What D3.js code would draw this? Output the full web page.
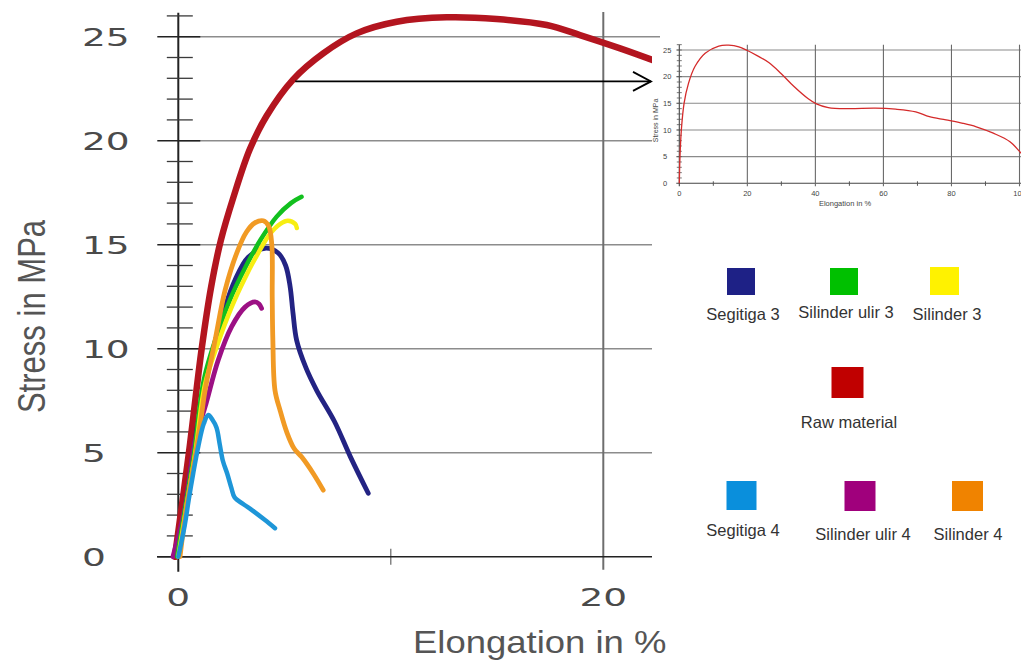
<!DOCTYPE html>
<html>
<head>
<meta charset="utf-8">
<script src="https://cdn.jsdelivr.net/npm/d3@7"></script>
<style>
  body { margin: 0; background: #fff; }
  text { font-family: "Liberation Sans", Arial, sans-serif; }
</style>
</head>
<body>
<svg id="chart" width="1021" height="661"></svg>
<script>
// ---- data ----
var seriesNames = ["Segitiga 3", "Silinder ulir 3", "Silinder 3", "Raw material", "Segitiga 4", "Silinder ulir 4", "Silinder 4"]

// [elongation %, stress MPa]
var rawMaterial = [[-0.16,0],[0.5,5],[1.1,10],[1.55,13],[2.0,15.2],[2.6,17.3],[3.37,19.6],[4.16,21.2],[5.41,22.95],[6.82,24.2],[8.39,25.16],[10.28,25.72],[12.63,25.93],[14.98,25.85],[17.34,25.56],[18.9,25.08],[20.79,24.44],[22.4,23.85]]
var segitiga3 = [[0,0],[0.35,2.5],[0.7,5],[1.2,8],[1.7,10.2],[2.2,12.0],[2.67,13.3],[3.29,14.4],[4.08,14.83],[4.7,14.6],[5.05,14.0],[5.26,13.0],[5.4,11.7],[5.57,10.4],[6.0,9.1],[6.51,8.0],[7.35,6.5],[8.1,4.8],[8.94,3.05]]
var silinderUlir3 = [[-0.05,0],[0.35,2.5],[0.75,5],[1.2,8.5],[1.8,10.6],[2.45,12.4],[3.1,13.8],[3.85,15.2],[4.63,16.35],[5.3,17.0],[5.8,17.3]]
var silinder3 = [[0,0],[0.4,2.5],[0.8,5],[1.26,8.3],[1.88,10.3],[2.51,12.0],[3.14,13.4],[3.76,14.6],[4.3,15.5],[4.8,16.0],[5.16,16.15],[5.5,16.0],[5.58,15.8]]
var segitiga4 = [[0,0],[0.3,1.5],[0.5,2.8],[0.7,4.0],[0.94,5.3],[1.2,6.4],[1.41,6.81],[1.6,6.6],[1.8,6.2],[1.95,5.4],[2.1,4.6],[2.3,4.0],[2.5,3.3],[2.65,2.85],[3.1,2.5],[3.45,2.25],[4.08,1.76],[4.55,1.37]]
var silinderUlir4 = [[-0.25,0],[0.05,1.2],[0.32,2.4],[0.55,4],[0.79,5.6],[1.26,7.2],[1.88,9.46],[2.51,11.06],[3.14,12.0],[3.61,12.25],[3.8,12.15],[3.92,11.94]]
var silinder4 = [[0.08,0],[0.4,2.5],[0.79,4.8],[1.05,6.5],[1.26,8.0],[1.73,10.4],[2.2,12.8],[2.75,14.6],[3.2,15.6],[3.6,16.05],[4.0,16.15],[4.25,15.9],[4.4,15.0],[4.42,12.5],[4.45,10.4],[4.55,8.0],[4.8,7.0],[5.1,6.0],[5.45,5.2],[5.8,4.8],[6.35,4.0],[6.82,3.2]]

// small inset: raw material over the full elongation range
var insetRaw = [[0,0],[0.2,5],[0.6,10],[1.4,15],[2.7,18.75],[4.6,21.9],[7.6,24.4],[11.6,25.75],[14.5,25.9],[17.5,25.6],[20,24.9],[23,23.9],[26.4,22.6],[29.9,20.6],[33.8,18.1],[37.8,15.9],[40.3,14.9],[43.8,14.2],[49.7,14.0],[57.6,14.1],[63.6,13.9],[69.5,13.4],[73.5,12.5],[78.4,11.9],[83.4,11.25],[87.3,10.6],[92.3,9.4],[97.2,7.8],[100.5,5.6]]

var yTickLabels = [0, 5, 10, 15, 20, 25]
var xTickLabels = [0, 20]
var insetYTicks = [0, 5, 10, 15, 20, 25]
var insetXTicks = [0, 20, 40, 60, 80, 100]

// ---- styles ----
var swatchColors = {"Segitiga 3": "#1e2186", "Silinder ulir 3": "#00c000", "Silinder 3": "#fff200", "Raw material": "#c00000",
                    "Segitiga 4": "#0a8fdc", "Silinder ulir 4": "#a0007c", "Silinder 4": "#f08300"}
var lineColors = {"Segitiga 3": "#232383", "Silinder ulir 3": "#12c01e", "Silinder 3": "#f7ee12", "Raw material": "#b3151f",
                  "Segitiga 4": "#1e96d8", "Silinder ulir 4": "#9c1084", "Silinder 4": "#f19a24"}

var svg = d3.select("#chart")

var x = d3.scaleLinear().domain([0, 20]).range([178.3, 603.3])
var y = d3.scaleLinear().domain([0, 25]).range([556.7, 36.7])

// ---- main chart ----
svg.append("clipPath").attr("id", "mainclip")
    .append("rect").attr("x", 0).attr("y", 0).attr("width", 660).attr("height", 661)

var main = svg.append("g").attr("clip-path", "url(#mainclip)")

// horizontal grid
main.selectAll(".hgrid")
    .data(yTickLabels.filter(function(d){ return d > 0 }))
    .enter().append("line")
    .attr("x1", x(0)).attr("x2", 660)
    .attr("y1", function(d){ return y(d) }).attr("y2", function(d){ return y(d) })
    .attr("stroke", "#8c8c8c").attr("stroke-width", 1.6)

// vertical line at 20
main.append("line")
    .attr("x1", x(20)).attr("x2", x(20))
    .attr("y1", 12).attr("y2", y(0) + 13)
    .attr("stroke", "#6e6e6e").attr("stroke-width", 2)

// tick at 10
main.append("line")
    .attr("x1", x(10)).attr("x2", x(10))
    .attr("y1", y(0) - 8).attr("y2", y(0) + 8)
    .attr("stroke", "#666").attr("stroke-width", 1.2)

// x axis
main.append("line")
    .attr("x1", 157).attr("x2", 660)
    .attr("y1", y(0)).attr("y2", y(0))
    .attr("stroke", "#222").attr("stroke-width", 1.6)

// y axis
main.append("line")
    .attr("x1", x(0)).attr("x2", x(0))
    .attr("y1", y(26.15)).attr("y2", y(0) + 15)
    .attr("stroke", "#222").attr("stroke-width", 2)

// minor ticks
var minorY = d3.range(1, 27).filter(function(d){ return d % 5 != 0 })
main.selectAll(".minor")
    .data(minorY).enter().append("line")
    .attr("x1", x(0) - 11.5).attr("x2", x(0) + 14.5)
    .attr("y1", function(d){ return y(d) }).attr("y2", function(d){ return y(d) })
    .attr("stroke", "#3a3a3a").attr("stroke-width", 1.3)

// major ticks
main.selectAll(".major")
    .data(yTickLabels).enter().append("line")
    .attr("x1", x(0) - 21).attr("x2", x(0) + 22)
    .attr("y1", function(d){ return y(d) }).attr("y2", function(d){ return y(d) })
    .attr("stroke", "#222").attr("stroke-width", 1.6)

// curves
var line = d3.line()
    .x(function(d){ return x(d[0]) })
    .y(function(d){ return y(d[1]) })
    .curve(d3.curveCatmullRom.alpha(0.5))

var curves = [
    {name: "Raw material", values: rawMaterial, w: 6.5},
    {name: "Segitiga 3", values: segitiga3, w: 4.8},
    {name: "Silinder ulir 4", values: silinderUlir4, w: 4.8},
    {name: "Silinder ulir 3", values: silinderUlir3, w: 4.5},
    {name: "Silinder 3", values: silinder3, w: 4.5},
    {name: "Silinder 4", values: silinder4, w: 4.8},
    {name: "Segitiga 4", values: segitiga4, w: 4.5}
]

main.selectAll(".curve")
    .data(curves).enter().append("path")
    .attr("d", function(d){ return line(d.values) })
    .attr("fill", "none")
    .attr("stroke", function(d){ return lineColors[d.name] })
    .attr("stroke-width", function(d){ return d.w })
    .attr("stroke-linecap", "round")
    .attr("stroke-linejoin", "round")

// tick labels (wide digits)
svg.selectAll(".ylab")
    .data(yTickLabels).enter().append("g")
    .attr("transform", function(d){ return "translate(82," + y(d) + ") scale(1.5,1)" })
    .append("text")
    .attr("dy", "0.36em")
    .style("font-family", "'DejaVu Sans', sans-serif")
    .attr("font-size", 25)
    .attr("fill", "#4a4a4a")
    .text(function(d){ return d })

svg.selectAll(".xlab")
    .data(xTickLabels).enter().append("g")
    .attr("transform", function(d){ return "translate(" + x(d) + ",597) scale(1.5,1)" })
    .append("text")
    .attr("dy", "0.36em")
    .attr("text-anchor", "middle")
    .style("font-family", "'DejaVu Sans', sans-serif")
    .attr("font-size", 25)
    .attr("fill", "#4a4a4a")
    .text(function(d){ return d })

svg.append("g")
    .attr("transform", "translate(413,653) scale(1.14,1)")
    .append("text")
    .attr("font-size", 32)
    .attr("fill", "#555")
    .text("Elongation in %")

svg.append("g")
    .attr("transform", "translate(45,316.5) rotate(-90) scale(1.15,1.45)")
    .append("text")
    .attr("text-anchor", "middle")
    .attr("font-size", 27)
    .attr("fill", "#555")
    .text("Stress in MPa")

// ---- inset ----
svg.append("rect")
    .attr("x", 652).attr("y", 40)
    .attr("width", 369).attr("height", 560)
    .attr("fill", "#fff")

var xi = d3.scaleLinear().domain([0, 100]).range([679.3, 1019.5])
var yi = d3.scaleLinear().domain([0, 25]).range([183.3, 50])
var inset = svg.append("g")

inset.selectAll(".ihg")
    .data(insetYTicks).enter().append("line")
    .attr("x1", xi(0) - 3).attr("x2", 1021)
    .attr("y1", function(d){ return yi(d) }).attr("y2", function(d){ return yi(d) })
    .attr("stroke", function(d){ return d == 0 ? "#444" : "#8a8a8a" })
    .attr("stroke-width", 1.1)

inset.selectAll(".ivg")
    .data(insetXTicks.filter(function(d){ return d > 0 })).enter().append("line")
    .attr("x1", function(d){ return xi(d) }).attr("x2", function(d){ return xi(d) })
    .attr("y1", yi(26)).attr("y2", yi(0) + 3)
    .attr("stroke", "#6a6a6a").attr("stroke-width", 1.1)

inset.selectAll(".ixm")
    .data([10, 30, 50, 70, 90]).enter().append("line")
    .attr("x1", function(d){ return xi(d) }).attr("x2", function(d){ return xi(d) })
    .attr("y1", yi(0) - 2).attr("y2", yi(0) + 2.5)
    .attr("stroke", "#555").attr("stroke-width", 1)

inset.append("line")
    .attr("x1", xi(0)).attr("x2", xi(0))
    .attr("y1", yi(26)).attr("y2", yi(0) + 3)
    .attr("stroke", "#444").attr("stroke-width", 1.1)

inset.selectAll(".iym")
    .data(d3.range(1, 27)).enter().append("line")
    .attr("x1", xi(0) - 2.5).attr("x2", xi(0) + 2.5)
    .attr("y1", function(d){ return yi(d) }).attr("y2", function(d){ return yi(d) })
    .attr("stroke", "#555").attr("stroke-width", 0.8)

var iline = d3.line()
    .x(function(d){ return xi(d[0]) })
    .y(function(d){ return yi(d[1]) })
    .curve(d3.curveCatmullRom.alpha(0.5))

inset.append("path")
    .attr("d", iline(insetRaw))
    .attr("fill", "none")
    .attr("stroke", "#d42a2a")
    .attr("stroke-width", 1.3)

inset.selectAll(".iylab")
    .data(insetYTicks).enter().append("text")
    .attr("x", 663).attr("y", function(d){ return yi(d) })
    .attr("dy", "0.35em")
    .attr("font-size", 7.5).attr("fill", "#444")
    .text(function(d){ return d })

inset.selectAll(".ixlab")
    .data(insetXTicks).enter().append("text")
    .attr("x", function(d){ return xi(d) }).attr("y", 196)
    .attr("text-anchor", "middle")
    .attr("font-size", 7.5).attr("fill", "#444")
    .text(function(d){ return d })

inset.append("text")
    .attr("x", 845).attr("y", 206)
    .attr("text-anchor", "middle")
    .attr("font-size", 7.5).attr("fill", "#444")
    .text("Elongation in %")

inset.append("text")
    .attr("transform", "translate(658,120.5) rotate(-90)")
    .attr("text-anchor", "middle")
    .attr("font-size", 7).attr("fill", "#444")
    .text("Stress in MPa")

// arrow from the curve to the inset
var ax = x(5.5), ay = y(22.85)
svg.append("line")
    .attr("x1", ax).attr("x2", 651)
    .attr("y1", ay).attr("y2", ay)
    .attr("stroke", "#000").attr("stroke-width", 1.8)
svg.append("path")
    .attr("d", "M633," + (ay - 9.5) + "L651," + ay + "L633," + (ay + 9.5))
    .attr("fill", "none").attr("stroke", "#000").attr("stroke-width", 1.8)

// ---- legend ----
var legendLayout = [
    {name: "Segitiga 3", cx: 741, top: 268, size: 28, tx: 743, ty: 320},
    {name: "Silinder ulir 3", cx: 844, top: 268, size: 28, tx: 846, ty: 318},
    {name: "Silinder 3", cx: 944.5, top: 267, size: 29, tx: 947, ty: 320},
    {name: "Raw material", cx: 847.5, top: 367, size: 32, tx: 849, ty: 428},
    {name: "Segitiga 4", cx: 741.5, top: 481, size: 30, tx: 743, ty: 536},
    {name: "Silinder ulir 4", cx: 860, top: 481, size: 31, tx: 863, ty: 540},
    {name: "Silinder 4", cx: 967.5, top: 481, size: 31, tx: 968, ty: 540}
]

var legend = svg.append("g")
legend.selectAll("rect")
    .data(legendLayout).enter().append("rect")
    .attr("x", function(d){ return d.cx - d.size / 2 })
    .attr("y", function(d){ return d.top })
    .attr("width", function(d){ return d.size })
    .attr("height", function(d){ return d.size - 1 })
    .attr("fill", function(d){ return swatchColors[d.name] })

legend.selectAll("text")
    .data(legendLayout).enter().append("text")
    .attr("x", function(d){ return d.tx })
    .attr("y", function(d){ return d.ty })
    .attr("text-anchor", "middle")
    .attr("font-size", 16.5)
    .attr("fill", "#333")
    .text(function(d){ return d.name })
</script>
</body>
</html>
